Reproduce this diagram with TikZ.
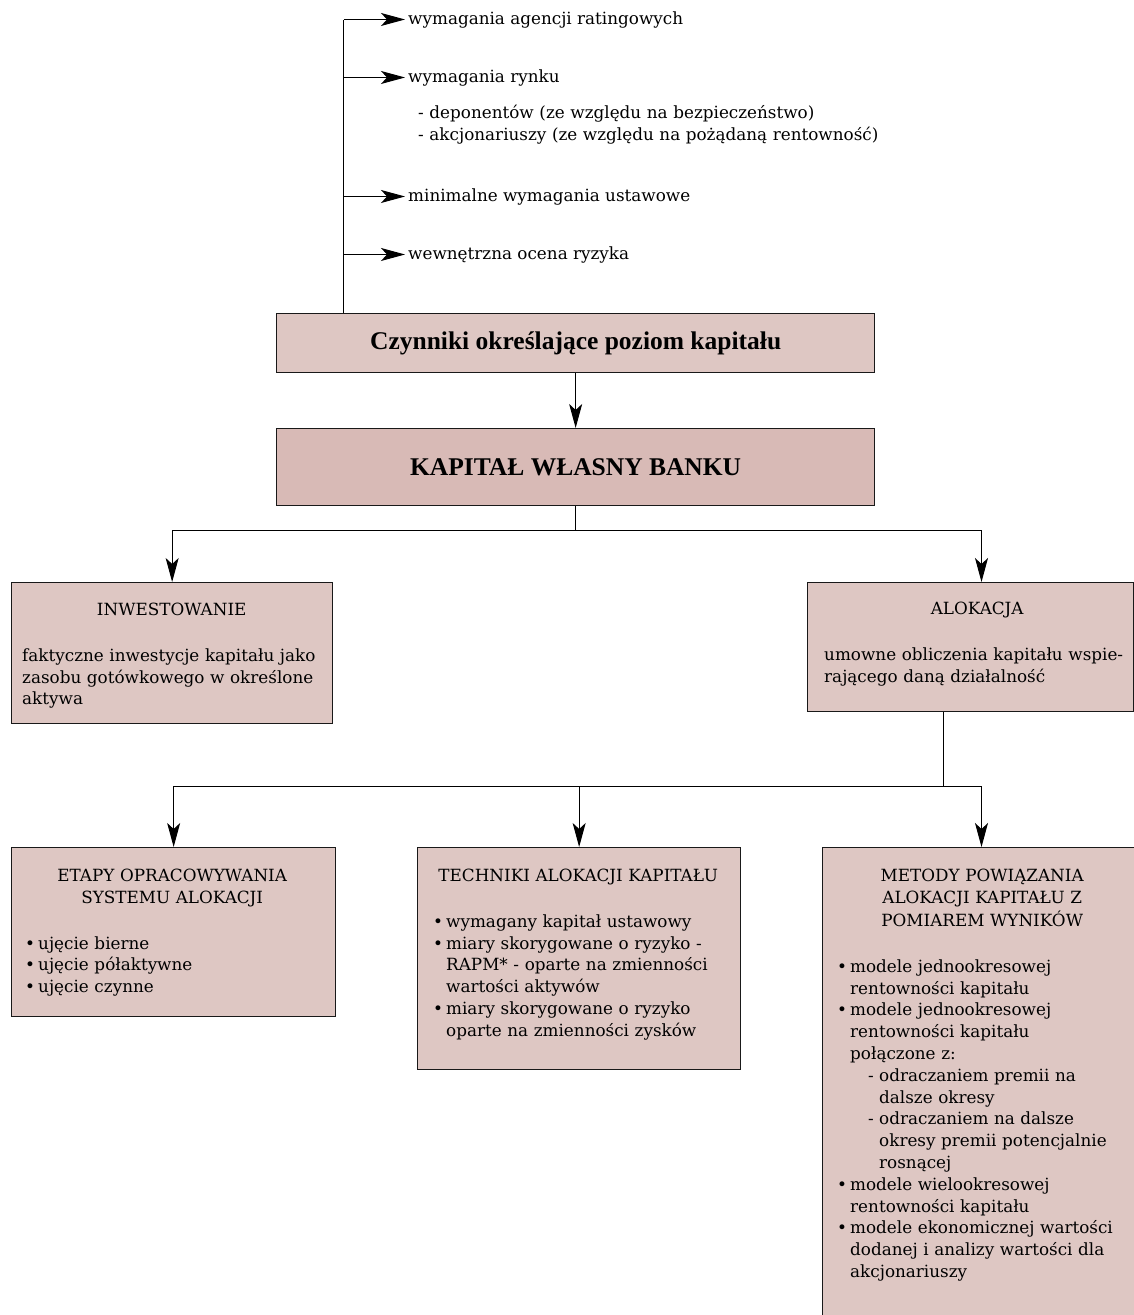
\documentclass[tikz,border=0pt]{standalone}
\usepackage{fontspec}
\setmainfont{DejaVu Serif}
\newfontfamily\titlefam{Liberation Serif}
\usetikzlibrary{arrows.meta,calc}
\definecolor{boxfill}{RGB}{222,199,195}
\definecolor{boxdark}{RGB}{216,186,182}
\definecolor{edge}{RGB}{25,25,25}
\setlength\parindent{0pt}
\newcommand\bodyfont{\fontsize{16.8}{21.8}\selectfont}
\newcommand\headfont{\titlefam\bfseries\fontsize{25.5}{29}\selectfont}
\newlength\bi \setlength\bi{13pt}
\newlength\di \setlength\di{31pt}
\newlength\dw \setlength\dw{11pt}
\newcommand\Tl[1]{\par\hbox to\hsize{\hss\strut #1\hss}}
\newcommand\Sl[1]{\par\hbox to\hsize{\strut #1}}
\newcommand\Ll[1]{\par\mbox{\strut #1}}
\newcommand\Bl[1]{\par\mbox{\strut\makebox[\bi][l]{\textbullet}#1}}
\newcommand\Cl[1]{\par\mbox{\strut\hspace*{\bi}#1}}
\newcommand\Dl[1]{\par\mbox{\strut\hspace*{\di}\makebox[\dw][l]{-}#1}}
\newcommand\Dc[1]{\par\mbox{\strut\hspace*{\di}\hspace*{\dw}#1}}
\newcommand\Gap{\par\vspace{23.8pt}}
\tikzset{
  box/.style={draw=edge, line width=1.3pt, fill=boxfill, anchor=north west, inner sep=0pt},
  txt/.style={anchor=north west, inner sep=0pt, text width=#1, align=left, font=\bodyfont},
  lbl/.style={anchor=base west, inner xsep=3pt, inner ysep=0pt, font=\bodyfont},
  conn/.style={draw=black, line width=1pt},
  arr/.style={conn, -{Stealth[length=24pt,width=13pt,inset=6pt]}}
}
\begin{document}
\begin{tikzpicture}[x=1pt,y=-1pt]
\useasboundingbox (0,0) rectangle (1134,1315);
\clip (0,0) rectangle (1134,1315);

% top labels
\node[lbl] (t1) at (405,24) {wymagania agencji ratingowych};
\node[lbl] (t2) at (405,82) {wymagania rynku};
\node[txt=480pt] (t2s) at (418,112-15.26) {\Ll{- deponentów (ze względu na bezpieczeństwo)}\par\vspace{-0.5pt}\Ll{- akcjonariuszy (ze względu na pożądaną rentowność)}};
\node[lbl] (t3) at (405,201) {minimalne wymagania ustawowe};
\node[lbl] (t4) at (405,259) {wewnętrzna ocena ryzyka};

% main boxes
\node[box, minimum width=598pt, minimum height=59pt, font=\headfont] (czy) at (276,313) {Czynniki określające poziom kapitału};
\node[box, fill=boxdark, minimum width=598pt, minimum height=77pt, font=\headfont] (kap) at (276,428) {KAPITAŁ WŁASNY BANKU};

% second level boxes
\node[box, minimum width=321pt, minimum height=141pt] (inw) at (11,582) {};
\node[txt=299pt] (inwt) at (22,609-15.26) {\Tl{INWESTOWANIE}\Gap
  \Sl{faktyczne inwestycje kapitału jako}
  \Sl{zasobu gotówkowego w określone}
  \Ll{aktywa}};

\node[box, minimum width=326pt, minimum height=129pt] (alo) at (807,582) {};
\node[txt=306pt] (alot) at (824,608-15.26) {\Tl{ALOKACJA}\Gap
  \Sl{umowne obliczenia kapitału wspie-}
  \Ll{rającego daną działalność}};

% third level boxes
\node[box, minimum width=324pt, minimum height=169pt] (eta) at (11,847) {};
\node[txt=294pt] (etat) at (25,875-15.26) {\Tl{ETAPY OPRACOWYWANIA}
  \Tl{SYSTEMU ALOKACJI}\Gap
  \Bl{ujęcie bierne}
  \Bl{ujęcie półaktywne}
  \Bl{ujęcie czynne}};

\node[box, minimum width=323pt, minimum height=222pt] (tec) at (417,847) {};
\node[txt=290pt] (tect) at (433,875-15.26) {\Tl{TECHNIKI ALOKACJI KAPITAŁU}\Gap
  \Bl{wymagany kapitał ustawowy}
  \Bl{miary skorygowane o ryzyko -}
  \Cl{RAPM* - oparte na zmienności}
  \Cl{wartości aktywów}
  \Bl{miary skorygowane o ryzyko}
  \Cl{oparte na zmienności zysków}};

\node[box, minimum width=320pt, minimum height=500pt] (met) at (822,847) {};
\node[txt=290pt] (mett) at (837,875-15.26) {\Tl{METODY POWIĄZANIA}
  \Tl{ALOKACJI KAPITAŁU Z}
  \Tl{POMIAREM WYNIKÓW}\Gap
  \Bl{modele jednookresowej}
  \Cl{rentowności kapitału}
  \Bl{modele jednookresowej}
  \Cl{rentowności kapitału}
  \Cl{połączone z:}
  \Dl{odraczaniem premii na}
  \Dc{dalsze okresy}
  \Dl{odraczaniem na dalsze}
  \Dc{okresy premii potencjalnie}
  \Dc{rosnącej}
  \Bl{modele wielookresowej}
  \Cl{rentowności kapitału}
  \Bl{modele ekonomicznej wartości}
  \Cl{dodanej i analizy wartości dla}
  \Cl{akcjonariuszy}};

% connectors: factors
\coordinate (vtop) at (343.5,20);
\draw[conn] (czy.north -| vtop) -- (vtop);
\foreach \t in {t1,t2,t3,t4} \draw[arr] (vtop |- \t.west) -- (\t.west);
\draw[arr] (czy) -- (kap);

% kapital -> inwestowanie / alokacja
\draw[conn] (kap.south) -- ++(0,24) coordinate (j1);
\coordinate (aloin) at ($(alo.north west)+(174.5,0)$);
\draw[arr] (j1) -| (inw.north);
\draw[arr] (j1) -| (aloin);

% alokacja -> three boxes
\coordinate (aloout) at ($(alo.south west)+(136.5,0)$);
\draw[conn] (aloout) -- ++(0,74) coordinate (j2);
\coordinate (metin) at ($(met.north west)+(159.5,0)$);
\draw[arr] (j2) -| (eta.north);
\draw[arr] (j2) -| (tec.north);
\draw[arr] (j2) -| (metin);
\end{tikzpicture}
\end{document}
